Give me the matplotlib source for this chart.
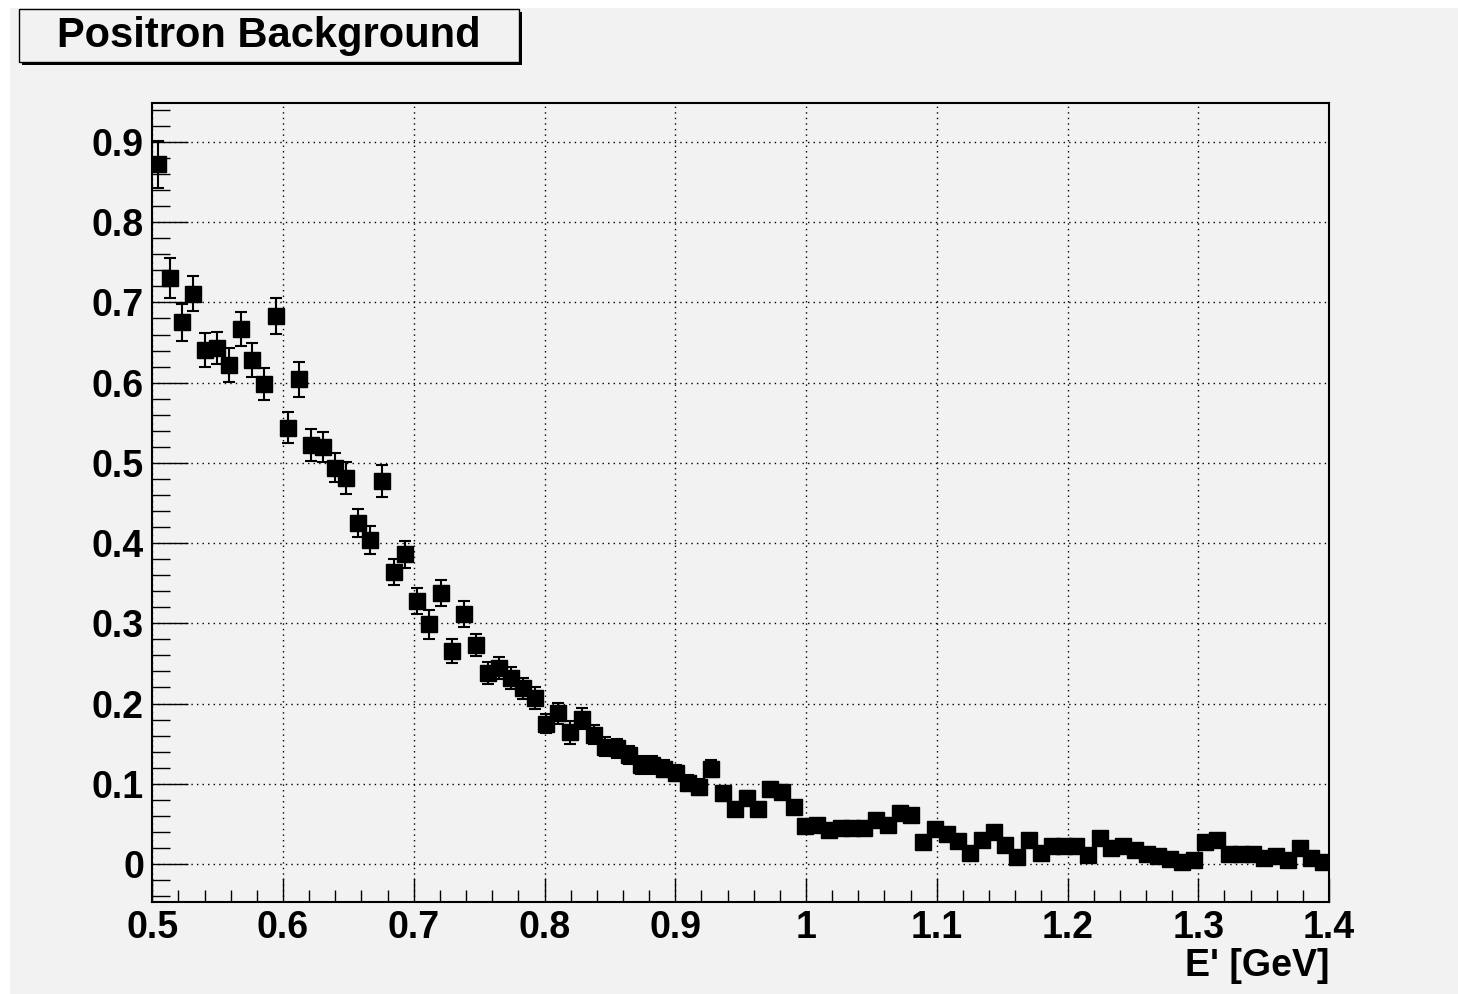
import numpy as np
import matplotlib
matplotlib.use("Agg")
import matplotlib.pyplot as plt
from matplotlib.patches import Rectangle
from matplotlib.ticker import MultipleLocator, FuncFormatter

# ---- data ----
x_lo, x_hi, n_bins = 0.5, 1.4, 100
values = [0.872, 0.730, 0.675, 0.711, 0.641, 0.643, 0.622, 0.667, 0.628, 0.598,
          0.683, 0.544, 0.604, 0.522, 0.520, 0.494, 0.481, 0.425, 0.404, 0.477,
          0.364, 0.386, 0.328, 0.299, 0.338, 0.265, 0.312, 0.273, 0.238, 0.244,
          0.232, 0.219, 0.207, 0.175, 0.188, 0.164, 0.181, 0.161, 0.146, 0.144,
          0.136, 0.123, 0.123, 0.119, 0.114, 0.101, 0.096, 0.119, 0.088, 0.068,
          0.082, 0.068, 0.093, 0.090, 0.071, 0.047, 0.048, 0.042, 0.045, 0.045,
          0.045, 0.055, 0.049, 0.064, 0.061, 0.028, 0.043, 0.037, 0.029, 0.014,
          0.030, 0.040, 0.024, 0.009, 0.030, 0.014, 0.022, 0.022, 0.022, 0.011,
          0.032, 0.020, 0.023, 0.017, 0.012, 0.010, 0.006, 0.003, 0.005, 0.028,
          0.030, 0.012, 0.012, 0.012, 0.008, 0.010, 0.005, 0.020, 0.007, 0.003]
errors = [0.029, 0.025, 0.023, 0.022, 0.021, 0.020, 0.021, 0.021, 0.021, 0.020,
          0.022, 0.019, 0.022, 0.020, 0.019, 0.018, 0.020, 0.018, 0.017, 0.020,
          0.016, 0.017, 0.016, 0.018, 0.016, 0.015, 0.016, 0.014, 0.014, 0.014,
          0.014, 0.013, 0.014, 0.012, 0.013, 0.014, 0.013, 0.012, 0.012, 0.012,
          0.011, 0.011, 0.011, 0.011, 0.010, 0.010, 0.010, 0.011, 0.009, 0.008,
          0.009, 0.008, 0.009, 0.009, 0.008, 0.007, 0.007, 0.007, 0.007, 0.007,
          0.007, 0.007, 0.007, 0.008, 0.008, 0.006, 0.007, 0.006, 0.006, 0.004,
          0.006, 0.007, 0.005, 0.003, 0.006, 0.004, 0.005, 0.005, 0.005, 0.004,
          0.006, 0.005, 0.005, 0.004, 0.004, 0.003, 0.003, 0.002, 0.002, 0.006,
          0.006, 0.004, 0.004, 0.004, 0.003, 0.004, 0.003, 0.005, 0.003, 0.002]
title = "Positron Background"
xlabel = "E' [GeV]"

edges = np.linspace(x_lo, x_hi, n_bins + 1)
centers = 0.5 * (edges[:-1] + edges[1:])

# ---- figure ----
W, H, DPI = 1458, 994, 100
bg = "#f2f2f2"
plt.rcParams["font.family"] = ["Liberation Sans", "DejaVu Sans"]
plt.rcParams["font.weight"] = "bold"

fig = plt.figure(figsize=(W / DPI, H / DPI), dpi=DPI, facecolor="white")
# gray canvas
fig.patches.append(Rectangle((10 / W, 0), 1 - 10 / W, 1 - 8 / H, transform=fig.transFigure,
                             facecolor=bg, edgecolor="none", zorder=-10))

L, R, T, B = 152.3, 1329, 103, 902
ax = fig.add_axes([L / W, 1 - B / H, (R - L) / W, (B - T) / H])
ax.set_zorder(2)
ax.set_facecolor(bg)

ax.errorbar(centers, values, yerr=errors, fmt="s", color="black", markersize=12,
            elinewidth=1.5, capsize=4.5, capthick=1.5, zorder=3)

ax.set_xlim(x_lo, x_hi)
ax.set_ylim(-0.0474, 0.9486)

ax.xaxis.set_major_locator(MultipleLocator(0.1))
ax.xaxis.set_minor_locator(MultipleLocator(0.02))
ax.yaxis.set_major_locator(MultipleLocator(0.1))
ax.yaxis.set_minor_locator(MultipleLocator(0.02))
fmt = FuncFormatter(lambda v, p: ("%.1f" % v).rstrip("0").rstrip(".") if abs(v) > 1e-9 else "0")
ax.xaxis.set_major_formatter(fmt)
ax.yaxis.set_major_formatter(fmt)

ax.tick_params(axis="x", which="major", direction="in", length=17, width=1.0, pad=6,
               labelsize=27, top=False)
ax.tick_params(axis="x", which="minor", direction="in", length=8.5, width=1.0, top=False)
ax.tick_params(axis="y", which="major", direction="in", length=26, width=1.0, pad=6,
               labelsize=27, right=False)
ax.tick_params(axis="y", which="minor", direction="in", length=13, width=1.0, right=False)
for lab in ax.get_xticklabels() + ax.get_yticklabels():
    lab.set_fontweight("bold")

ax.grid(True, which="major", color="black", linestyle=(0, (1, 3)), linewidth=1.0)
ax.set_axisbelow(True)
for s in ax.spines.values():
    s.set_linewidth(1.5)
    s.set_color("black")

ax.set_xlabel(xlabel, fontsize=27, fontweight="bold", loc="right", labelpad=1)

# title box with shadow
bx0, by0, bx1, by1 = 19, 9, 519, 62
sh = 3
fig.patches.append(Rectangle(((bx0 + sh) / W, 1 - (by1 + sh) / H), (bx1 - bx0) / W, (by1 - by0) / H,
                             transform=fig.transFigure, facecolor="black", edgecolor="none", zorder=5))
fig.patches.append(Rectangle((bx0 / W, 1 - by1 / H), (bx1 - bx0) / W, (by1 - by0) / H,
                             transform=fig.transFigure, facecolor=bg, edgecolor="black",
                             linewidth=1.0, zorder=6))
fig.text((bx0 + bx1) / 2 / W, 1 - (by0 + by1) / 2 / H, title, ha="center", va="center",
         fontsize=30, fontweight="bold", zorder=7)

fig.savefig("out.png", dpi=DPI, facecolor="white")
